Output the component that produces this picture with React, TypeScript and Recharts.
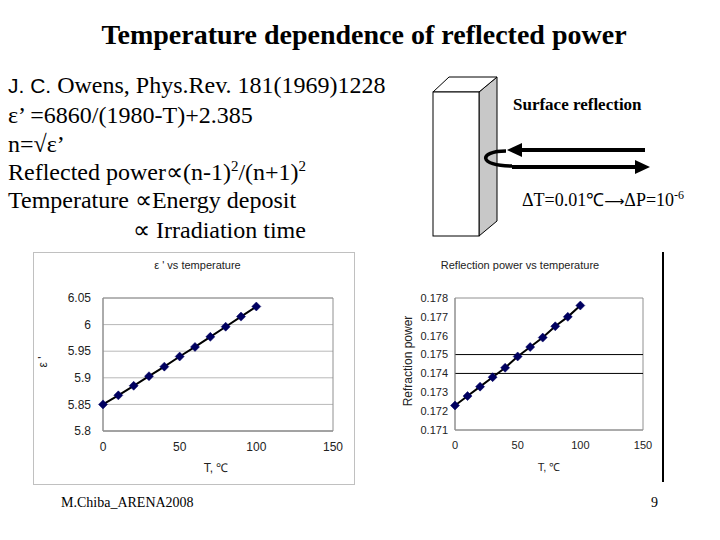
import React from "react";
import { LineChart, Line, XAxis, YAxis, CartesianGrid, ReferenceLine, ReferenceArea } from "recharts";

const temps = [0, 10, 20, 30, 40, 50, 60, 70, 80, 90, 100];
const epsValues = [5.85, 5.867, 5.885, 5.903, 5.921, 5.94, 5.958, 5.977, 5.996, 6.015, 6.034];
const powerValues = [0.1723, 0.1728, 0.1733, 0.1738, 0.1743, 0.1749, 0.1754, 0.1759, 0.1765, 0.177, 0.1776];
const xTicks = [0, 50, 100, 150];
const epsTicks = [5.8, 5.85, 5.9, 5.95, 6, 6.05];
const powerTicks = [0.171, 0.172, 0.173, 0.174, 0.175, 0.176, 0.177, 0.178];
const powerMarkLines = [0.174, 0.175];

const epsData = temps.map((t, i) => ({ T: t, eps: epsValues[i] }));
const powerData = temps.map((t, i) => ({ T: t, power: powerValues[i] }));

const SERIF = '"Liberation Serif", "Times New Roman", serif';
const SANS = '"Liberation Sans", Arial, sans-serif';

const Diamond = (props: any) => {
  const { cx, cy, index } = props;
  if (cx == null || cy == null) return null;
  const r = 4.5;
  return (
    <path
      key={`d-${index}`}
      d={`M${cx},${cy - r}L${cx + r},${cy}L${cx},${cy + r}L${cx - r},${cy}Z`}
      fill="#000060"
      stroke="#000060"
      strokeWidth={0.5}
    />
  );
};

const abs = (left: number, top: number, extra: any = {}) => ({
  position: "absolute" as const,
  left,
  top,
  whiteSpace: "nowrap" as const,
  ...extra,
});

const Sup = ({ children, size, lift }: { children: any; size: number; lift: number }) => (
  <span style={{ fontSize: size, position: "relative", top: -lift, lineHeight: 0 }}>{children}</span>
);

export default function App() {
  const lineStyle = { fontFamily: SERIF, fontSize: 24, lineHeight: "28px", color: "#000" };
  return (
    <div
      style={{
        position: "absolute",
        left: 0,
        top: 0,
        width: 720,
        height: 540,
        background: "#fff",
        overflow: "hidden",
        fontFamily: SERIF,
      }}
    >
      {/* Title */}
      <div
        style={abs(0, 18, {
          width: 728,
          textAlign: "center",
          fontFamily: SERIF,
          fontWeight: "bold",
          fontSize: 28,
          lineHeight: "34px",
        })}
      >
        Temperature dependence of reflected power
      </div>

      {/* Left text block */}
      <div style={abs(8, 71, lineStyle)}>
        <span style={{ fontFamily: SANS, fontSize: 21 }}>J. C.</span> Owens, Phys.Rev. 181(1969)1228
      </div>
      <div style={abs(8, 101, lineStyle)}>ε’ =6860/(1980-T)+2.385</div>
      <div style={abs(8, 130, lineStyle)}>n=√ε’</div>
      <div style={abs(8, 158, lineStyle)}>
        Reflected power∝(n-1)<Sup size={15} lift={9}>2</Sup>/(n+1)<Sup size={15} lift={9}>2</Sup>
      </div>
      <div style={abs(8, 186, lineStyle)}>Temperature ∝Energy deposit</div>
      <div style={abs(133, 216, lineStyle)}>∝ Irradiation time</div>

      {/* Diagram */}
      <svg width={720} height={540} style={{ position: "absolute", left: 0, top: 0 }}>
        <polygon points="479,92 497,77 497,221 479,236" fill="#c8c8c8" stroke="#000" strokeWidth={1} />
        <polygon points="433,92 449,77 497,77 479,92" fill="#fff" stroke="#000" strokeWidth={1} />
        <rect x={433} y={92} width={46} height={144} fill="#fff" stroke="#000" strokeWidth={1} />
        <line x1={645} y1={150} x2={518} y2={150} stroke="#000" strokeWidth={4} />
        <polygon points="507,150 522,143 522,157" fill="#000" />
        <line x1={512} y1={167} x2={638} y2={167} stroke="#000" strokeWidth={4} />
        <polygon points="650,167 635,160 635,174" fill="#000" />
        <path d="M506,151 C478,151 478,166 512,166" fill="none" stroke="#000" strokeWidth={3.5} />
        <line x1={663} y1={252} x2={663} y2={482} stroke="#000" strokeWidth={2} />
      </svg>
      <div style={abs(513, 94, { fontFamily: SERIF, fontSize: 17, fontWeight: "bold", lineHeight: "22px" })}>
        Surface reflection
      </div>
      <div style={abs(522, 189, { fontFamily: SERIF, fontSize: 18, lineHeight: "22px" })}>
        ΔT=0.01℃<span style={{ fontFamily: '"DejaVu Sans", sans-serif', fontSize: 14 }}>⟶</span>ΔP=10<Sup size={12} lift={7}>-6</Sup>
      </div>

      {/* Left chart frame */}
      <div
        style={abs(33, 252, {
          width: 322,
          height: 233,
          border: "1px solid #c0c0c0",
          boxSizing: "border-box",
        })}
      />
      <div style={abs(33, 252)}>
        <LineChart width={323} height={234} data={epsData} margin={{ top: 46, right: 23, bottom: 0, left: 0 }}>
          <CartesianGrid vertical={false} stroke="#b8b8b8" />
          <XAxis
            dataKey="T"
            type="number"
            domain={[0, 150]}
            ticks={xTicks}
            height={55}
            tickSize={0}
            tickMargin={11}
            axisLine={{ stroke: "#909090" }}
            tick={{ fill: "#222", fontSize: 12, fontFamily: SANS }}
          />
          <YAxis
            type="number"
            domain={[5.8, 6.05]}
            ticks={epsTicks}
            width={70}
            tickSize={0}
            tickMargin={12}
            axisLine={{ stroke: "#909090" }}
            tick={{ fill: "#222", fontSize: 12, fontFamily: SANS }}
          />
          <ReferenceArea x1={0} x2={150} y1={5.8} y2={6.05} fill="none" stroke="#909090" strokeOpacity={1} fillOpacity={0} />
          <Line dataKey="eps" stroke="#000" strokeWidth={2} dot={Diamond} isAnimationActive={false} />
        </LineChart>
      </div>
      <div style={abs(140, 259, { fontFamily: SANS, fontSize: 11, width: 115, textAlign: "center", color: "#222" })}>
        ε ' vs temperature
      </div>
      <div
        style={abs(38, 355, {
          fontFamily: SANS,
          fontSize: 12,
          color: "#222",
          transform: "rotate(-90deg)",
          transformOrigin: "center",
        })}
      >
        ε '
      </div>
      <div style={abs(186, 459, { fontFamily: SANS, fontSize: 12, width: 60, textAlign: "center", color: "#222" })}>
        T, ℃
      </div>

      {/* Right chart */}
      <div style={abs(395, 252)}>
        <LineChart width={268} height={234} data={powerData} margin={{ top: 46, right: 20, bottom: 0, left: 0 }}>
          <XAxis
            dataKey="T"
            type="number"
            domain={[0, 150]}
            ticks={xTicks}
            height={56}
            tickSize={0}
            tickMargin={11}
            axisLine={{ stroke: "#909090" }}
            tick={{ fill: "#222", fontSize: 11, fontFamily: SANS }}
          />
          <YAxis
            type="number"
            domain={[0.171, 0.178]}
            ticks={powerTicks}
            width={60}
            tickSize={0}
            tickMargin={7}
            axisLine={{ stroke: "#909090" }}
            tick={{ fill: "#222", fontSize: 11, fontFamily: SANS }}
          />
          <ReferenceArea x1={0} x2={150} y1={0.171} y2={0.178} fill="none" stroke="#909090" strokeOpacity={1} fillOpacity={0} />
          {powerMarkLines.map((v) => (
            <ReferenceLine key={v} y={v} stroke="#000" strokeWidth={1} />
          ))}
          <Line dataKey="power" stroke="#000" strokeWidth={2} dot={Diamond} isAnimationActive={false} />
        </LineChart>
      </div>
      <div style={abs(425, 259, { fontFamily: SANS, fontSize: 11, width: 190, textAlign: "center", color: "#222" })}>
        Reflection power vs temperature
      </div>
      <div
        style={abs(353, 354, {
          fontFamily: SANS,
          fontSize: 12,
          width: 110,
          textAlign: "center",
          color: "#222",
          transform: "rotate(-90deg)",
          transformOrigin: "center",
        })}
      >
        Refraction power
      </div>
      <div style={abs(519, 459, { fontFamily: SANS, fontSize: 11, width: 60, textAlign: "center", color: "#222" })}>
        T, ℃
      </div>

      {/* Footer */}
      <div style={abs(61, 494, { fontFamily: SERIF, fontSize: 14, lineHeight: "18px" })}>M.Chiba_ARENA2008</div>
      <div style={abs(651, 494, { fontFamily: SERIF, fontSize: 14, lineHeight: "18px" })}>9</div>
    </div>
  );
}
